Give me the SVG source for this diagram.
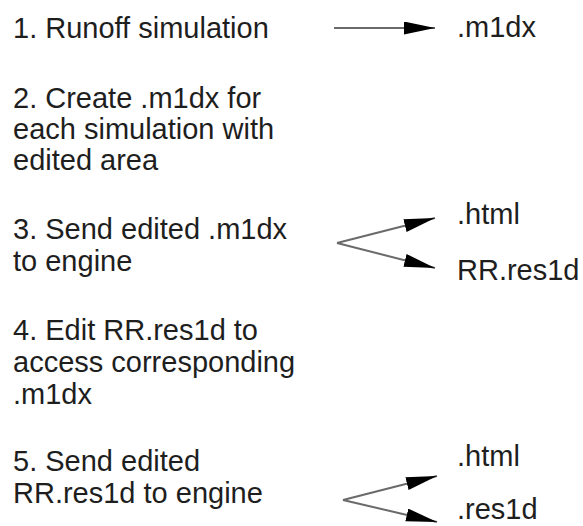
<svg xmlns="http://www.w3.org/2000/svg" width="583" height="526" viewBox="0 0 583 526">
  <style>
    .t { font-family: "Liberation Sans", Arial, sans-serif; font-size: 29px; fill: #1e1e1e; }
    .c { stroke: #6a6a6a; stroke-width: 2; fill: none; }
  </style>
  <defs>
    <marker id="ah" markerUnits="userSpaceOnUse" markerWidth="34" markerHeight="16" refX="31" refY="6.5" orient="auto">
      <path d="M0,0 L31,6.5 L0,13 Z" fill="#000"/>
    </marker>
  </defs>
  <rect width="583" height="526" fill="#fff"/>
  <g id="step1">
    <text class="t" x="13" y="38">1. Runoff simulation</text>
  </g>
  <g id="m1dx">
    <text class="t" x="457" y="37">.m1dx</text>
  </g>
  <g id="step2">
    <text class="t" x="13" y="108">2. Create .m1dx for</text>
    <text class="t" x="13" y="139">each simulation with</text>
    <text class="t" x="13" y="170">edited area</text>
  </g>
  <g id="step3">
    <text class="t" x="13" y="239">3. Send edited .m1dx</text>
    <text class="t" x="13" y="271">to engine</text>
  </g>
  <g id="html1">
    <text class="t" x="457" y="224">.html</text>
  </g>
  <g id="rrres1d">
    <text class="t" x="457" y="280">RR.res1d</text>
  </g>
  <g id="step4">
    <text class="t" x="13" y="340">4. Edit RR.res1d to</text>
    <text class="t" x="13" y="372">access corresponding</text>
    <text class="t" x="13" y="404">.m1dx</text>
  </g>
  <g id="step5">
    <text class="t" x="13" y="471">5. Send edited</text>
    <text class="t" x="13" y="503">RR.res1d to engine</text>
  </g>
  <g id="html2">
    <text class="t" x="457" y="466">.html</text>
  </g>
  <g id="res1d">
    <text class="t" x="457" y="519">.res1d</text>
  </g>
  <g id="connectors">
    <line class="c" x1="334" y1="28" x2="435" y2="28" marker-end="url(#ah)"/>
    <line class="c" x1="337" y1="243" x2="435" y2="218" marker-end="url(#ah)"/>
    <line class="c" x1="337" y1="243" x2="435" y2="268" marker-end="url(#ah)"/>
    <line class="c" x1="343" y1="500" x2="437" y2="476" marker-end="url(#ah)"/>
    <line class="c" x1="343" y1="500" x2="437" y2="522" marker-end="url(#ah)"/>
  </g>
</svg>
